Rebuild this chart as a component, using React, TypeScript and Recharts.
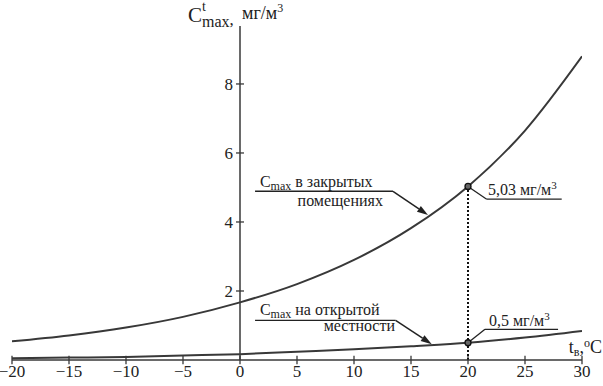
import React from "react";
import { LineChart, Line, XAxis, YAxis, ReferenceLine, ReferenceDot } from "recharts";

const TEMPS = [-20, -15, -10, -5, 0, 5, 10, 15, 20, 25, 30];
const INDOOR = [0.54, 0.71, 0.94, 1.25, 1.67, 2.2, 2.9, 3.82, 5.03, 6.65, 8.8];
const OUTDOOR = [0.05, 0.07, 0.09, 0.13, 0.17, 0.24, 0.31, 0.4, 0.5, 0.65, 0.84];
const X_TICKS = [-20, -15, -10, -5, 0, 5, 10, 15, 20, 25, 30];
const Y_TICKS = [2, 4, 6, 8];
const Y_MAX = 9.68;
const MARK_X = 20;
const MARK_INDOOR = 5.03;
const MARK_OUTDOOR = 0.5;

const data = TEMPS.map((t, i) => ({ t, indoor: INDOOR[i], outdoor: OUTDOOR[i] }));

const FONT = "'Liberation Serif', 'Times New Roman', serif";
const INK = "#222";
const LINE = "#383838";
const TS = { fontFamily: FONT };

const fmt = (v: number) => (v < 0 ? "\u2212" + Math.abs(v) : String(v));

const arrowShape = (p: any) => {
  const { x1, y1, x2, y2 } = p;
  const a = Math.atan2(y2 - y1, x2 - x1);
  const L = 11, W = 3.5;
  const bx = x2 - L * Math.cos(a), by = y2 - L * Math.sin(a);
  const lx = bx - W * Math.sin(a), ly = by + W * Math.cos(a);
  const rx = bx + W * Math.sin(a), ry = by - W * Math.cos(a);
  return (
    <g>
      <line x1={x1} y1={y1} x2={bx} y2={by} stroke={INK} strokeWidth={1.5} />
      <polygon points={`${x2},${y2} ${lx},${ly} ${rx},${ry}`} fill={INK} />
    </g>
  );
};

const yTickShape = (label: string) => (p: any) => (
  <g>
    <line x1={p.x1} y1={p.y1} x2={p.x2} y2={p.y2} stroke={LINE} strokeWidth={1.3} />
    <text x={p.x1 - 3} y={p.y1 + 6} textAnchor="end" style={TS} fontSize={17} fill={INK}>
      {label}
    </text>
  </g>
);

const XTick = (p: any) => (
  <text x={p.x} y={p.y + 12} textAnchor="middle" style={TS} fontSize={17} fill={INK}>
    {fmt(p.payload.value)}
  </text>
);

const cmaxText = (rest: string) => (p: any) => (
  <text x={p.cx} y={p.cy} style={TS} fontSize={16} fill={INK}>
    <tspan>C</tspan>
    <tspan fontSize={12} dy={3}>max</tspan>
    <tspan dy={-3}>{" " + rest}</tspan>
  </text>
);

const plainText = (s: string, anchor: string) => (p: any) => (
  <text x={p.cx} y={p.cy} textAnchor={anchor} style={TS} fontSize={16} fill={INK}>
    {s}
  </text>
);

const unitText = (num: string) => (p: any) => (
  <text x={p.cx} y={p.cy} style={TS} fontSize={16} fill={INK}>
    <tspan>{num + " мг/м"}</tspan>
    <tspan fontSize={11} dy={-6}>3</tspan>
  </text>
);

const titleShape = (p: any) => (
  <text x={p.cx - 52} y={p.cy - 4} style={TS} fill={INK} fontSize={21}>
    <tspan>C</tspan>
    <tspan fontSize={14} dy={-11}>t</tspan>
    <tspan x={p.cx - 38} dy={16} fontSize={16}>max</tspan>
    <tspan fontSize={17} dy={-2}>,</tspan>
    <tspan x={p.cx + 2} dy={-6} fontSize={18}>мг/м</tspan>
    <tspan fontSize={12} dy={-7}>3</tspan>
  </text>
);

const xTitleShape = (p: any) => (
  <text x={p.cx + 20} y={p.cy - 7} textAnchor="end" style={TS} fontSize={18} fill={INK}>
    <tspan>t</tspan>
    <tspan fontSize={12} dy={3}>в</tspan>
    <tspan dy={-3}>,</tspan>
    <tspan fontSize={12} dy={-6}>o</tspan>
    <tspan dy={6}>C</tspan>
  </text>
);

export default function App() {
  return (
    <div style={{ position: "absolute", left: 0, top: 0, background: "#fff", fontFamily: FONT }}>
      <LineChart width={603} height={386} data={data} margin={{ top: 26, right: 21, left: 12, bottom: 0 }} style={TS}>
        <XAxis
          dataKey="t"
          type="number"
          domain={[-20, 30]}
          ticks={X_TICKS}
          height={26}
          tickLine={false}
          tickSize={0}
          tickMargin={5}
          axisLine={{ stroke: LINE, strokeWidth: 1.5 }}
          tick={XTick}
          interval={0}
          allowDataOverflow
        />
        <YAxis hide type="number" domain={[0, Y_MAX]} allowDataOverflow />
        <ReferenceLine x={0} stroke={LINE} strokeWidth={1.5} />
        {X_TICKS.map((t) => (
          <ReferenceLine
            key={"xt" + t}
            segment={[{ x: t, y: -0.12 }, { x: t, y: 0.12 }]}
            stroke={LINE}
            strokeWidth={1.3}
            ifOverflow="visible"
          />
        ))}
        {Y_TICKS.map((v) => (
          <ReferenceLine
            key={"yt" + v}
            segment={[{ x: -0.35, y: v }, { x: 0.35, y: v }]}
            shape={yTickShape(String(v))}
            ifOverflow="visible"
          />
        ))}
        <ReferenceLine
          segment={[{ x: MARK_X, y: 0 }, { x: MARK_X, y: MARK_INDOOR }]}
          stroke="#111"
          strokeWidth={2}
          strokeDasharray="2 2"
        />
        <Line type="monotone" dataKey="indoor" stroke={LINE} strokeWidth={2} dot={false} isAnimationActive={false} />
        <Line type="monotone" dataKey="outdoor" stroke={LINE} strokeWidth={2} dot={false} isAnimationActive={false} />

        <ReferenceLine segment={[{ x: 1.32, y: 4.89 }, { x: 13.42, y: 4.89 }]} stroke={INK} strokeWidth={1.3} />
        <ReferenceLine segment={[{ x: 13.42, y: 4.89 }, { x: 16.49, y: 4.2 }]} shape={arrowShape} />
        <ReferenceDot x={1.75} y={5.01} r={0} shape={cmaxText("в закрытых")} ifOverflow="visible" />
        <ReferenceDot x={12.54} y={4.47} r={0} shape={plainText("помещениях", "end")} ifOverflow="visible" />

        <ReferenceLine segment={[{ x: 1.32, y: 1.15 }, { x: 13.65, y: 1.15 }]} stroke={INK} strokeWidth={1.3} />
        <ReferenceLine segment={[{ x: 13.65, y: 1.15 }, { x: 16.82, y: 0.46 }]} shape={arrowShape} />
        <ReferenceDot x={1.75} y={1.31} r={0} shape={cmaxText("на открытой")} ifOverflow="visible" />
        <ReferenceDot x={13.6} y={0.85} r={0} shape={plainText("местности", "end")} ifOverflow="visible" />

        <ReferenceLine segment={[{ x: MARK_X, y: MARK_INDOOR }, { x: 21.64, y: 4.66 }]} stroke={INK} strokeWidth={1.3} />
        <ReferenceLine segment={[{ x: 21.64, y: 4.66 }, { x: 28.22, y: 4.66 }]} stroke={INK} strokeWidth={1.3} />
        <ReferenceDot x={21.75} y={4.78} r={0} shape={unitText("5,03")} ifOverflow="visible" />
        <ReferenceLine segment={[{ x: MARK_X, y: MARK_OUTDOOR }, { x: 21.49, y: 0.89 }]} stroke={INK} strokeWidth={1.3} />
        <ReferenceLine segment={[{ x: 21.49, y: 0.89 }, { x: 27.9, y: 0.89 }]} stroke={INK} strokeWidth={1.3} />
        <ReferenceDot x={21.84} y={0.99} r={0} shape={unitText("0,5")} ifOverflow="visible" />

        <ReferenceDot x={MARK_X} y={MARK_INDOOR} r={3} fill="#666" stroke="#111" strokeWidth={1.3} />
        <ReferenceDot x={MARK_X} y={MARK_OUTDOOR} r={3} fill="#666" stroke="#111" strokeWidth={1.3} />

        <ReferenceDot x={0} y={Y_MAX} r={0} shape={titleShape} ifOverflow="visible" />
        <ReferenceDot x={30} y={0} r={0} shape={xTitleShape} ifOverflow="visible" />
      </LineChart>
    </div>
  );
}
